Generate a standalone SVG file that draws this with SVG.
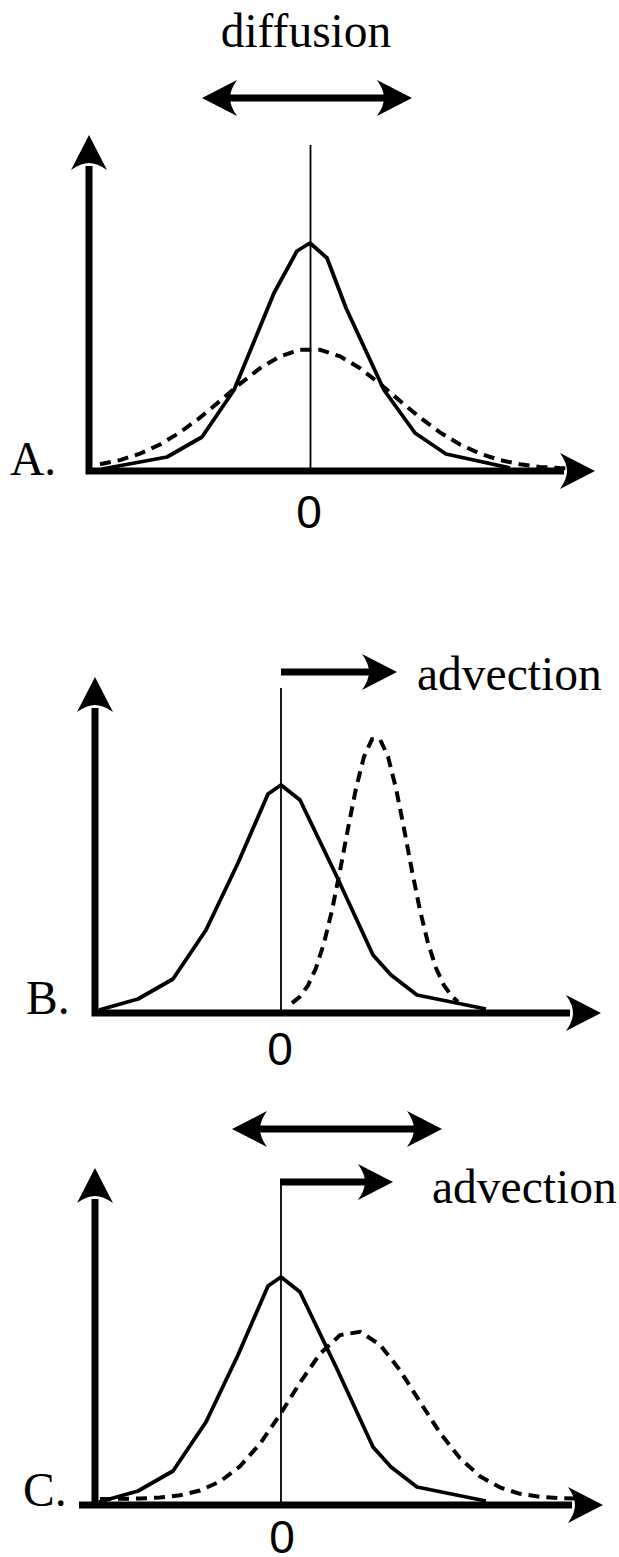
<svg xmlns="http://www.w3.org/2000/svg" xmlns:xlink="http://www.w3.org/1999/xlink" width="619" height="1557" viewBox="0 0 619 1557">
<style>
.ax{fill:none;stroke:#000;stroke-width:7;stroke-linejoin:miter}
.arr{fill:none;stroke:#000;stroke-width:7}
.zero{fill:none;stroke:#000;stroke-width:1.8}
.sol{fill:none;stroke:#000;stroke-width:3.8;stroke-linejoin:round}
.dsh{fill:none;stroke:#000;stroke-width:4;stroke-dasharray:11 7}
.lbl{font-family:"Liberation Serif","Times New Roman",serif;font-size:47.5px;fill:#000}
.num{font-family:"Liberation Sans",Arial,sans-serif;font-size:46px;fill:#000}
</style>
<defs>
<path id="hd" d="M0,0 L-35,-18 Q-28,-8 -28,0 Q-28,8 -35,18 Z" fill="#000"/>
</defs>
<rect width="619" height="1557" fill="#fff"/>

<g id="panelA">
  <text class="lbl" x="306" y="47" text-anchor="middle">diffusion</text>
  <text class="lbl" x="10" y="475">A.</text>
  <text class="num" x="309" y="528" text-anchor="middle">0</text>
</g>
<g id="panelB">
  <text class="lbl" x="417" y="690">advection</text>
  <text class="lbl" x="26" y="1014">B.</text>
  <text class="num" x="280" y="1065" text-anchor="middle">0</text>
</g>
<g id="panelC">
  <text class="lbl" x="432" y="1203">advection</text>
  <text class="lbl" x="23" y="1506">C.</text>
  <text class="num" x="282" y="1553" text-anchor="middle">0</text>
</g>

<g id="connectors">
  <!-- Panel A -->
  <path class="ax" d="M89,166 V471 H564"/>
  <use xlink:href="#hd" href="#hd" transform="translate(89,135) rotate(-90)"/>
  <use xlink:href="#hd" href="#hd" transform="translate(595,471)"/>
  <line class="arr" x1="228" y1="98" x2="386" y2="98"/>
  <use xlink:href="#hd" href="#hd" transform="translate(202,98) rotate(180)"/>
  <use xlink:href="#hd" href="#hd" transform="translate(412,98)"/>
  <line class="zero" x1="310.5" y1="145" x2="310.5" y2="471"/>
  <path class="sol" d="M102,469 L167,457 L202,437 L234,390 L274,293 L297,251 L310,243 L327,258 L346,308 L384,390 L415,433 L446,454 L510,468"/>
  <path class="dsh" d="M100,464.3 L120,460.1 L140,453.6 L160,444.5 L180,432.4 L200,417.6 L220,400.9 L240,383.8 L260,368.2 L280,356.3 L300,349.8 L320,349.8 L340,356.3 L360,368.2 L380,383.8 L400,400.9 L420,417.6 L440,432.4 L460,444.5 L480,453.6 L500,460.1 L520,464.3 L540,466.9 L560,468 L580,468.5"/>

  <!-- Panel B -->
  <path class="ax" d="M95,708 V1013 H570"/>
  <use xlink:href="#hd" href="#hd" transform="translate(95,677) rotate(-90)"/>
  <use xlink:href="#hd" href="#hd" transform="translate(601,1013)"/>
  <line class="arr" x1="281" y1="672" x2="371" y2="672"/>
  <use xlink:href="#hd" href="#hd" transform="translate(397,672)"/>
  <line class="zero" x1="281" y1="688" x2="281" y2="1013"/>
  <path class="sol" d="M99,1010 L138,999 L173,979 L206,930 L238,863 L268,794 L281,785 L300,800 L337,877 L373,955 L391,975 L417,995 L486,1009"/>
  <path class="dsh" d="M292,1003.1 L300,996.5 L308,985.4 L316,968 L324,943.1 L332,910.3 L340,870.9 L348,828.5 L356,788.3 L364,756.7 L372,739.3 L380,739.3 L388,756.7 L396,788.3 L404,828.5 L412,870.9 L420,910.3 L428,943.1 L436,968 L444,985.4 L452,996.5 L458,1001.8"/>

  <!-- Panel C -->
  <path class="ax" d="M95,1199 V1505"/>
  <path class="ax" d="M79,1505 H572"/>
  <use xlink:href="#hd" href="#hd" transform="translate(95,1168) rotate(-90)"/>
  <use xlink:href="#hd" href="#hd" transform="translate(603,1505)"/>
  <line class="arr" x1="258" y1="1129" x2="416" y2="1129"/>
  <use xlink:href="#hd" href="#hd" transform="translate(232,1129) rotate(180)"/>
  <use xlink:href="#hd" href="#hd" transform="translate(442,1129)"/>
  <line class="arr" x1="280" y1="1182" x2="367" y2="1182"/>
  <use xlink:href="#hd" href="#hd" transform="translate(393,1182)"/>
  <line class="zero" x1="281" y1="1179" x2="281" y2="1505"/>
  <path class="sol" d="M99,1502 L138,1491 L173,1471 L206,1422 L238,1355 L268,1286 L281,1277 L300,1292 L337,1369 L373,1447 L391,1467 L417,1487 L486,1501"/>
  <path class="dsh" d="M100,1499 L120,1498.8 L140,1498.5 L160,1497.5 L180,1495.3 L200,1490.5 L220,1481.5 L240,1466.3 L260,1443.8 L280,1414.7 L300,1382.6 L320,1353.8 L340,1335.1 L360,1331.8 L380,1344.7 L400,1370.3 L420,1401.9 L440,1432.8 L460,1458.2 L480,1476.3 L500,1487.5 L520,1493.8 L540,1496.8 L560,1498.2 L580,1498.7"/>
</g>
</svg>
